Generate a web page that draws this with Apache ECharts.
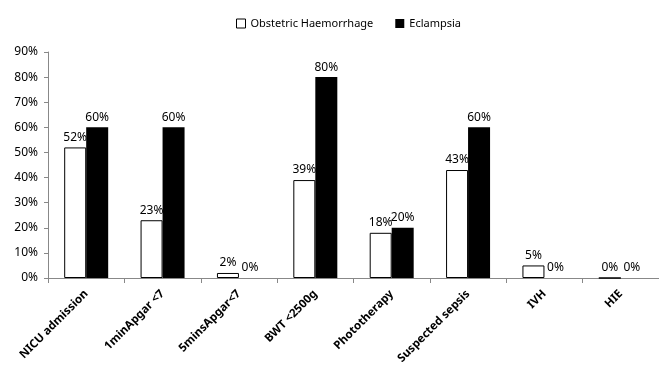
<!DOCTYPE html>
<html><head><meta charset="utf-8">
<script src="https://cdn.jsdelivr.net/npm/echarts@6/dist/echarts.min.js"></script>
<style>html,body{margin:0;padding:0;background:#fff}#c{width:659px;height:372px}</style>
</head><body><div id="c"></div>
<script>
var categories = ['NICU admission','1minApgar <7','5minsApgar<7','BWT <2500g','Phototherapy','Suspected sepsis','IVH','HIE'];
var obstetric = [52, 23, 2, 39, 18, 43, 5, 0];
var eclampsia = [60, 60, 0, 80, 20, 60, 0, 0];
var yTicks = [0, 10, 20, 30, 40, 50, 60, 70, 80, 90];

var font = 'Noto Sans';
var chart = echarts.init(document.getElementById('c'));
chart.setOption({
  animation: false,
  textStyle: {fontFamily: font},
  legend: {
    top: 13, left: 231, itemGap: 22, itemWidth: 9, itemHeight: 9,
    textStyle: {fontFamily: font, fontSize: 11, color: '#000'},
    data: [
      {name: 'Obstetric Haemorrhage', icon: 'rect', itemStyle: {color: '#fff', borderColor: '#000', borderWidth: 1}},
      {name: 'Eclampsia', icon: 'rect', itemStyle: {color: '#000'}}
    ]
  },
  grid: {left: 48, right: -11, top: 52, bottom: 94, containLabel: false},
  xAxis: {
    type: 'category', data: categories,
    axisLine: {lineStyle: {color: '#888', width: 1}},
    axisTick: {show: true, length: 5, lineStyle: {color: '#888'}},
    axisLabel: {rotate: 45, interval: 0, fontFamily: font, fontSize: 11.5, fontWeight: 'bold', color: '#000', margin: 14}
  },
  yAxis: {
    type: 'value', min: yTicks[0], max: yTicks[yTicks.length - 1], interval: 10,
    axisLine: {show: true, lineStyle: {color: '#888'}},
    axisTick: {show: true, length: 4, lineStyle: {color: '#888'}},
    splitLine: {show: false},
    axisLabel: {formatter: '{value}%', fontFamily: font, fontSize: 12, color: '#000', margin: 10}
  },
  series: [
    {
      name: 'Obstetric Haemorrhage', type: 'bar', data: obstetric,
      barWidth: 22, barGap: '0%',
      itemStyle: {color: '#fff', borderColor: '#000', borderWidth: 1},
      label: {show: true, position: 'top', formatter: '{c}%', fontFamily: font, fontSize: 12, color: '#000', distance: 4}
    },
    {
      name: 'Eclampsia', type: 'bar', data: eclampsia,
      barWidth: 22, barGap: '0%',
      itemStyle: {color: '#000'},
      label: {show: true, position: 'top', formatter: '{c}%', fontFamily: font, fontSize: 12, color: '#000', distance: 4}
    }
  ]
});
</script></body></html>
